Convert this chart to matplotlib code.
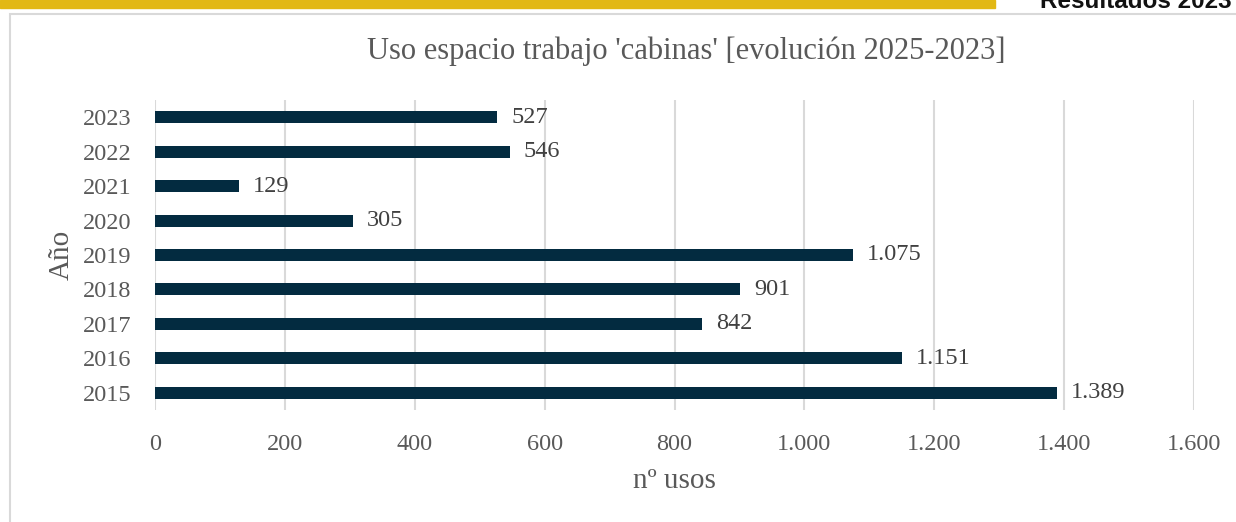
import matplotlib.pyplot as plt
from matplotlib.patches import Rectangle


YEARS = ["2015", "2016", "2017", "2018", "2019", "2020", "2021", "2022", "2023"]
USES = [1389, 1151, 842, 901, 1075, 305, 129, 546, 527]
X_TICKS = [0, 200, 400, 600, 800, 1000, 1200, 1400, 1600]

TITLE = "Uso espacio trabajo 'cabinas' [evolución 2025-2023]"
BAR_COLOR = "#032B40"
GRID_COLOR = "#d9d9d9"
TEXT_COLOR = "#595959"
SERIF = ["Liberation Serif", "DejaVu Serif"]

W, H = 1236, 522


def fmt_thousands(v):
    return f"{v:,.0f}".replace(",", ".")


def main():
    plt.rcParams["font.family"] = SERIF

    fig = plt.figure(figsize=(W / 100, H / 100), dpi=100)

    # gold strip on top and the page header (cut at the top edge)
    fig.patches.append(
        Rectangle((0, 1 - 7.5 / H), 995 / W, 7.5 / H,
                  transform=fig.transFigure, color="#E2B814", zorder=0)
    )
    fig.text(1232 / W, 1 - 7.5 / H, "Resultados 2023",
             ha="right", va="baseline", fontsize=17.5, fontweight="bold",
             family="Liberation Sans", color="#111111")

    # chart frame
    fig.patches.append(
        Rectangle((10 / W, -0.1), 1.2, 1.1 - 14 / H,
                  transform=fig.transFigure, fill=False,
                  edgecolor=GRID_COLOR, linewidth=1.5, zorder=0)
    )

    ax = fig.add_axes([155 / W, 1 - 410 / H, 1039 / W, 310 / H])

    bars = ax.barh(YEARS, USES, height=0.35, color=BAR_COLOR, zorder=3)
    ax.bar_label(bars, labels=[fmt_thousands(v) for v in USES],
                 padding=10, fontsize=17.5, color="#404040")

    ax.set_xlim(0, 1600)
    ax.set_ylim(-0.5, len(YEARS) - 0.5)
    ax.set_xticks(X_TICKS)
    ax.set_xticklabels([fmt_thousands(v) for v in X_TICKS])

    ax.grid(axis="x", color=GRID_COLOR, linewidth=1.5, zorder=0)
    ax.set_axisbelow(True)
    for spine in ax.spines.values():
        spine.set_visible(False)

    ax.tick_params(axis="both", length=0, labelsize=17.5, labelcolor=TEXT_COLOR)
    ax.tick_params(axis="x", pad=17)
    ax.tick_params(axis="y", pad=17)

    ax.set_xlabel("nº usos", fontsize=21, color=TEXT_COLOR, labelpad=10)
    ax.set_ylabel("Año", fontsize=21, color=TEXT_COLOR, labelpad=6)

    fig.text(686 / W, 1 - 59 / H, TITLE, ha="center", va="baseline",
             fontsize=22, color=TEXT_COLOR)

    fig.savefig("out.png", dpi=100)
    plt.close(fig)


if __name__ == "__main__":
    main()
